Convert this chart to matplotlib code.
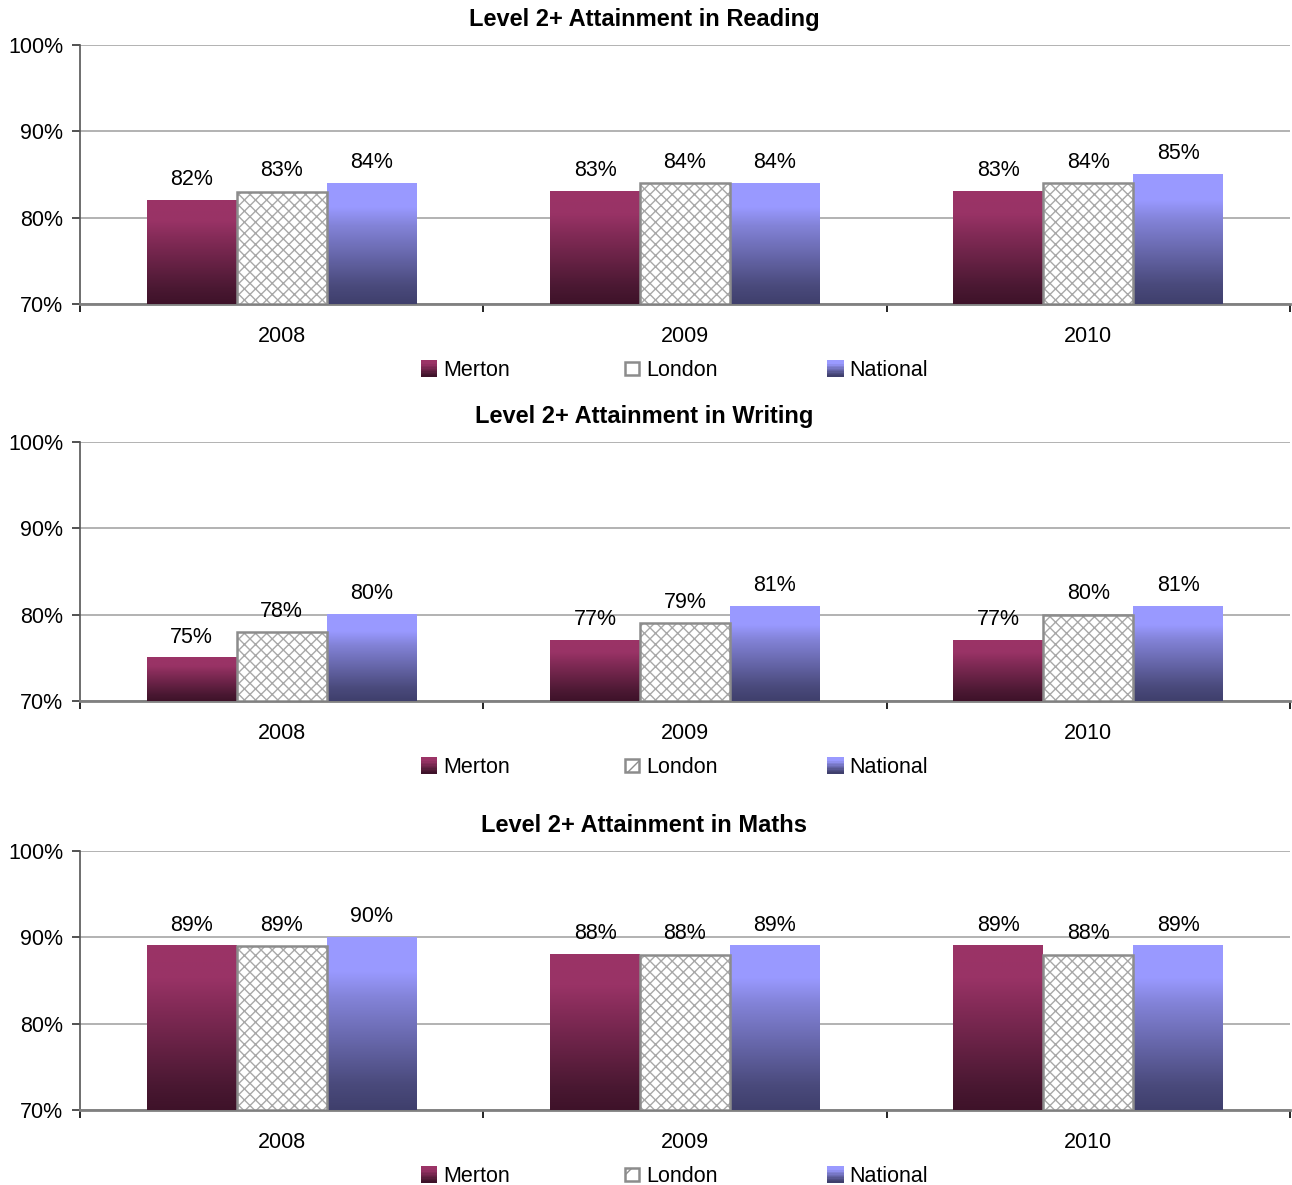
import numpy as np
import matplotlib
matplotlib.use("Agg")
import matplotlib.pyplot as plt
from matplotlib.colors import LinearSegmentedColormap
from matplotlib.patches import Rectangle
from matplotlib.legend import Legend
from matplotlib.legend_handler import HandlerBase

plt.rcParams['font.family'] = ['Liberation Sans', 'DejaVu Sans']
plt.rcParams['hatch.linewidth'] = 1.0

years = ["2008", "2009", "2010"]
series = ["Merton", "London", "National"]
titles = ["Level 2+ Attainment in Reading",
          "Level 2+ Attainment in Writing",
          "Level 2+ Attainment in Maths"]
reading_merton = [82, 83, 83]
reading_london = [83, 84, 84]
reading_national = [84, 84, 85]
writing_merton = [75, 77, 77]
writing_london = [78, 79, 80]
writing_national = [80, 81, 81]
maths_merton = [89, 88, 89]
maths_london = [89, 88, 88]
maths_national = [90, 89, 89]

panels = [
    (titles[0], [reading_merton, reading_london, reading_national]),
    (titles[1], [writing_merton, writing_london, writing_national]),
    (titles[2], [maths_merton, maths_london, maths_national]),
]

merton_cmap = LinearSegmentedColormap.from_list(
    "merton", [(0.0, "#3e1229"), (0.15, "#4a1832"), (0.65, "#862c59"), (0.8, "#993366"), (1.0, "#9b3466")])
national_cmap = LinearSegmentedColormap.from_list(
    "national", [(0.0, "#3f3f6c"), (0.15, "#4a4a7c"), (0.65, "#8383d8"), (0.8, "#9999ff"), (1.0, "#9a9aff")])

W, H = 1292, 1185
fig = plt.figure(figsize=(W / 100, H / 100), dpi=100)

axes_px = [(45, 304), (442, 701), (851, 1110)]
left_px, right_px = 80, 1290
bar_w = 0.223
offsets = [-bar_w, 0.0, bar_w]
fs = 15.5
title_fs = 17
marker_px = 12.0
legend_x = [0.2855, 0.4533, 0.6211]


def gradient_bar(ax, x0, width, y0, y1, cmap):
    grad = np.linspace(0, 1, 256).reshape(-1, 1)
    ax.imshow(grad, cmap=cmap, origin="lower", aspect="auto",
              extent=(x0, x0 + width, y0, y1), zorder=3, interpolation="bilinear")


class GradientHandler(HandlerBase):
    def __init__(self, cmap):
        super().__init__()
        self.cmap = cmap

    def create_artists(self, legend, orig_handle, xdescent, ydescent, width, height, fontsize, trans):
        size = marker_px
        x = -xdescent + width - size
        y = -ydescent + (height - size) / 2
        n = 12
        arts = []
        for i in range(n):
            c = self.cmap(i / (n - 1))
            arts.append(Rectangle((x, y + size * i / n), size, size / n + 0.3,
                                  facecolor=c, edgecolor="none", transform=trans))
        return arts


class HatchHandler(HandlerBase):
    def __init__(self, hatched):
        super().__init__()
        self.hatched = hatched

    def create_artists(self, legend, orig_handle, xdescent, ydescent, width, height, fontsize, trans):
        size = marker_px - 2
        x = -xdescent + width - size - 1
        y = -ydescent + (height - size) / 2
        r = Rectangle((x, y), size, size, facecolor="white", edgecolor="#8c8c8c",
                      linewidth=1.8, transform=trans,
                      hatch="/" if self.hatched else None)
        return [r]


for pi, ((top, bot), (title, vals)) in enumerate(zip(axes_px, panels)):
    ax = fig.add_axes([left_px / W, 1 - bot / H, (right_px - left_px) / W, (bot - top) / H])
    ax.set_xlim(-0.5, 2.5)
    ax.set_ylim(70, 100)
    x = np.arange(len(years))
    for si, (name, v) in enumerate(zip(series, vals)):
        for xi, val in zip(x, v):
            xc = xi + offsets[si]
            x0 = xc - bar_w / 2
            if name == "Merton":
                gradient_bar(ax, x0, bar_w, 70, val, merton_cmap)
            elif name == "National":
                gradient_bar(ax, x0, bar_w, 70, val, national_cmap)
            else:
                ax.bar(xc, val - 70, bottom=70, width=bar_w,
                       facecolor="white", edgecolor="#a8a8a8", linewidth=0,
                       hatch="xxx", zorder=3)
                ax.bar(xc, val - 70, bottom=70, width=bar_w,
                       facecolor="none", edgecolor="#8c8c8c", linewidth=1.8,
                       zorder=3.5)
            ax.annotate(f"{val}%", (xc, val), xytext=(0, 11),
                        textcoords="offset points", ha="center", va="baseline",
                        fontsize=fs, zorder=5)
    ax.set_yticks([70, 80, 90, 100])
    ax.set_yticklabels(["70%", "80%", "90%", "100%"], fontsize=fs)
    ax.yaxis.grid(True, color="#a6a6a6", linewidth=1.2, zorder=0)
    ax.set_axisbelow(True)
    ax.set_xticks(x)
    ax.set_xticklabels(years, fontsize=fs)
    ax.tick_params(axis="x", length=0, pad=16)
    ax.set_xticks([-0.5, 0.5, 1.5, 2.5], minor=True)
    ax.tick_params(axis="x", which="minor", length=6, color="black", width=1.2)
    ax.tick_params(axis="y", length=6, color="#333333", width=1.2, pad=6)
    for s in ["top", "right"]:
        ax.spines[s].set_visible(False)
    ax.spines["left"].set_color("#555555")
    ax.spines["left"].set_linewidth(1.2)
    ax.spines["bottom"].set_color("#808080")
    ax.spines["bottom"].set_linewidth(2)
    ax.set_title(title, fontsize=title_fs, fontweight="bold", pad=13.5)
    ax.title.set_x(0.466)

    # one legend box per series, so the entries sit at even spacing
    handlers = [GradientHandler(merton_cmap), HatchHandler(pi > 0),
                GradientHandler(national_cmap)]
    for name, hnd, lx in zip(series, handlers, legend_x):
        h = Rectangle((0, 0), 1, 1)
        leg = Legend(ax, [h], [name], loc="center left",
                     bbox_to_anchor=(lx, -0.257), frameon=False, fontsize=fs,
                     handlelength=marker_px / (fs * 100 / 72), handletextpad=0.25,
                     borderpad=0, borderaxespad=0,
                     handler_map={h: hnd})
        ax.add_artist(leg)

fig.savefig("out.png", dpi=100)
